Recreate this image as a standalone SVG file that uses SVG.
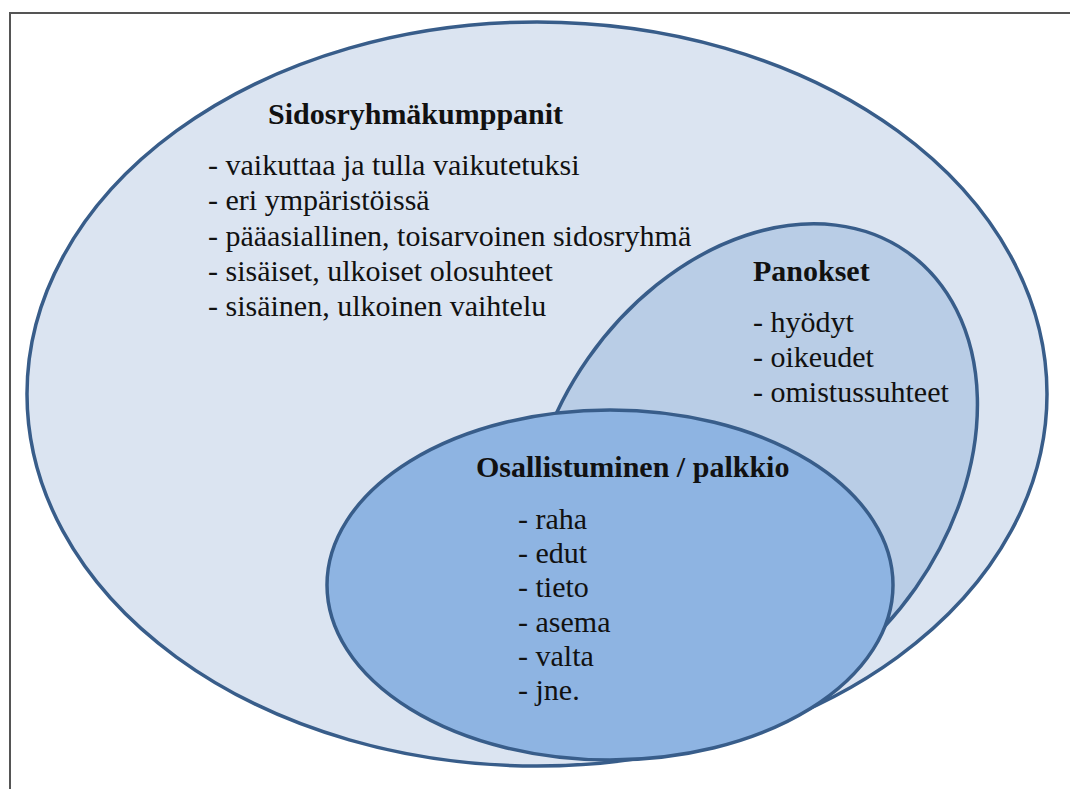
<svg xmlns="http://www.w3.org/2000/svg" width="1070" height="789" viewBox="0 0 1070 789">
<style>
  .ell { stroke: #385d8a; stroke-width: 3.5; }
  text { font-family: 'Liberation Serif', 'Times New Roman', Times, serif; font-size: 30px; fill: #111111; }
  .b { font-weight: bold; }
</style>
<rect x="0" y="0" width="1070" height="789" fill="#ffffff"/>
<rect x="10" y="13" width="1100" height="800" fill="none" stroke="#555555" stroke-width="2"/>
<g id="sidosryhmakumppanit" font-family="Liberation Serif, serif">
  <ellipse class="ell" cx="537" cy="394" rx="510" ry="372" fill="#dbe4f1"/>
  <text class="b" x="268" y="124">Sidosryhmäkumppanit</text>
  <text x="208" y="175">- vaikuttaa ja tulla vaikutetuksi</text>
  <text x="208" y="210">- eri ympäristöissä</text>
  <text x="208" y="246">- pääasiallinen, toisarvoinen sidosryhmä</text>
  <text x="208" y="281">- sisäiset, ulkoiset olosuhteet</text>
  <text x="208" y="316">- sisäinen, ulkoinen vaihtelu</text>
</g>
<g id="panokset" font-family="Liberation Serif, serif">
  <ellipse class="ell" cx="0" cy="0" rx="270" ry="200" transform="translate(752 473) rotate(-55)" fill="#b9cde6"/>
  <text class="b" x="753" y="281">Panokset</text>
  <text x="753" y="332">- hyödyt</text>
  <text x="753" y="367">- oikeudet</text>
  <text x="753" y="402">- omistussuhteet</text>
</g>
<g id="osallistuminen" font-family="Liberation Serif, serif">
  <ellipse class="ell" cx="610" cy="585" rx="283" ry="175" fill="#8eb4e2"/>
  <text class="b" x="476" y="477">Osallistuminen / palkkio</text>
  <text x="518" y="529">- raha</text>
  <text x="518" y="563">- edut</text>
  <text x="518" y="597">- tieto</text>
  <text x="518" y="632">- asema</text>
  <text x="518" y="666">- valta</text>
  <text x="518" y="700">- jne.</text>
</g>
<g id="connectors"></g>
</svg>
